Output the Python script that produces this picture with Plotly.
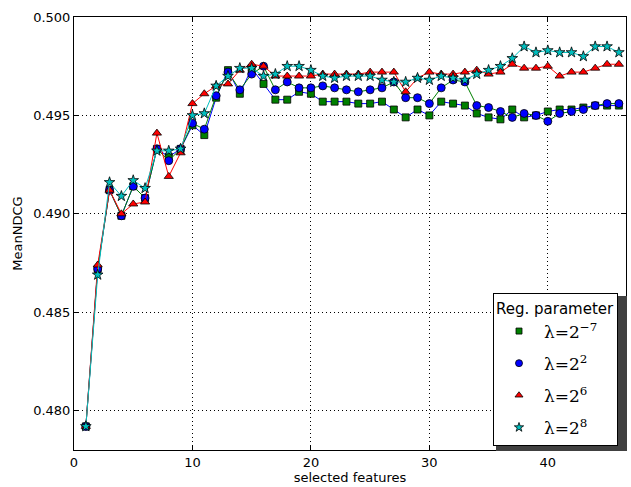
import plotly.graph_objects as go

features = list(range(1, 47))

ndcg_lam_m7 = [0.4792, 0.4872, 0.4912, 0.4899, 0.4914, 0.4908, 0.4933, 0.4929, 0.4933, 0.4945,
               0.4940, 0.4959, 0.4973, 0.4961, 0.4974, 0.4966, 0.4958, 0.4958, 0.4962, 0.4961,
               0.4957, 0.4957, 0.4957, 0.4956, 0.4956, 0.4957, 0.4953, 0.4949, 0.4953, 0.4950,
               0.4957, 0.4956, 0.4955, 0.4951, 0.4949, 0.4948, 0.4953, 0.4949, 0.4950, 0.4952,
               0.4953, 0.4953, 0.4954, 0.4955, 0.4955, 0.4955]

ndcg_lam_2 = [0.4792, 0.4872, 0.4912, 0.4899, 0.4914, 0.4908, 0.4933, 0.4927, 0.4933, 0.4946,
              0.4943, 0.4960, 0.4972, 0.4963, 0.4971, 0.4975, 0.4963, 0.4967, 0.4964, 0.4964,
              0.4965, 0.4964, 0.4963, 0.4962, 0.4963, 0.4964, 0.4967, 0.4959, 0.4959, 0.4956,
              0.4964, 0.4968, 0.4967, 0.4955, 0.4954, 0.4952, 0.4949, 0.4951, 0.4950, 0.4947,
              0.4951, 0.4952, 0.4953, 0.4955, 0.4956, 0.4956]

ndcg_lam_6 = [0.4792, 0.4874, 0.4912, 0.4900, 0.4905, 0.4906, 0.4941, 0.4919, 0.4931, 0.4956,
              0.4961, 0.4965, 0.4966, 0.4973, 0.4976, 0.4975, 0.4970, 0.4970, 0.4970, 0.4970,
              0.4971, 0.4971, 0.4971, 0.4971, 0.4972, 0.4972, 0.4972, 0.4962, 0.4969, 0.4972,
              0.4971, 0.4971, 0.4972, 0.4973, 0.4971, 0.4972, 0.4976, 0.4974, 0.4974, 0.4975,
              0.4970, 0.4972, 0.4972, 0.4974, 0.4976, 0.4976]

ndcg_lam_8 = [0.4792, 0.4869, 0.4916, 0.4909, 0.4917, 0.4913, 0.4932, 0.4932, 0.4933, 0.4950,
              0.4951, 0.4965, 0.4970, 0.4974, 0.4974, 0.4970, 0.4971, 0.4975, 0.4975, 0.4973,
              0.4970, 0.4969, 0.4970, 0.4970, 0.4970, 0.4968, 0.4967, 0.4967, 0.4969, 0.4968,
              0.4970, 0.4969, 0.4968, 0.4971, 0.4973, 0.4975, 0.4979, 0.4985, 0.4982, 0.4983,
              0.4982, 0.4982, 0.4980, 0.4985, 0.4985, 0.4982]

x_ticks = [0, 10, 20, 30, 40]
y_ticks = [0.480, 0.485, 0.490, 0.495, 0.500]

series = [
    ("λ=2<sup>−7</sup>", ndcg_lam_m7, "square", 7, "#008000", "#0000ff"),
    ("λ=2<sup>2</sup>", ndcg_lam_2, "circle", 8, "#0000ff", "#008000"),
    ("λ=2<sup>6</sup>", ndcg_lam_6, "triangle-up", 8, "#ff0000", "#ff0000"),
    ("λ=2<sup>8</sup>", ndcg_lam_8, "star", 8, "#00bfbf", "#00bfbf"),
]

fig = go.Figure()
for name, ys, sym, size, mcol, lcol in series:
    fig.add_trace(go.Scatter(
        x=features, y=ys, mode="lines+markers", showlegend=False,
        line=dict(color=lcol, width=1),
        marker=dict(symbol=sym, size=size, color=mcol, line=dict(color="black", width=0.8)),
    ))
for i, (name, ys, sym, size, mcol, lcol) in enumerate(series):
    fig.add_trace(go.Scatter(
        x=[None], y=[None], mode="markers", name=name, showlegend=True,
        legendgroup=f"g{i}",
        marker=dict(symbol=sym, size=size - 1, color=mcol, line=dict(color="black", width=0.8)),
    ))

axis_common = dict(
    showline=True, linecolor="black", linewidth=1, mirror="allticks",
    ticks="inside", ticklen=5, tickcolor="black", tickwidth=1,
    showgrid=True, gridcolor="black", gridwidth=1, griddash="1px,3px",
    zeroline=False, automargin=False,
    tickfont=dict(family="DejaVu Sans", size=13, color="black"),
)

fig.update_xaxes(range=[0, 46.6], tickvals=x_ticks, ticktext=[str(v) for v in x_ticks],
                 title=dict(text="selected features", font=dict(family="DejaVu Sans", size=13, color="black"), standoff=4),
                 **axis_common)
fig.update_yaxes(range=[0.478, 0.500], tickvals=y_ticks, ticktext=[f"{v:.3f}" for v in y_ticks],
                 title=dict(text="MeanNDCG", font=dict(family="DejaVu Sans", size=13, color="black"), standoff=7),
                 **axis_common)

# legend drop shadow (paper coordinates)
fig.add_shape(type="rect", xref="paper", yref="paper",
              x0=(496 - 74) / 552, x1=(627 - 74) / 552,
              y0=(450 - 451) / 433, y1=(450 - 296) / 433,
              fillcolor="#404040", line=dict(width=0), layer="above")

fig.update_layout(
    width=631, height=487,
    margin=dict(l=74, r=5, t=17, b=37),
    paper_bgcolor="white", plot_bgcolor="white",
    legend=dict(
        x=(493 - 74) / 552, y=(450 - 293) / 433, xanchor="left", yanchor="top",
        bgcolor="white", bordercolor="black", borderwidth=1,
        title=dict(text="Reg. parameter", font=dict(family="DejaVu Sans", size=15, color="black"), side="top"),
        font=dict(family="DejaVu Serif", size=17, color="black"),
        itemsizing="trace", tracegroupgap=7, itemwidth=40,
    ),
)

fig.write_html("out.html", config={"displayModeBar": False},
               post_script="document.body.style.margin='0';document.body.style.padding='0';")
